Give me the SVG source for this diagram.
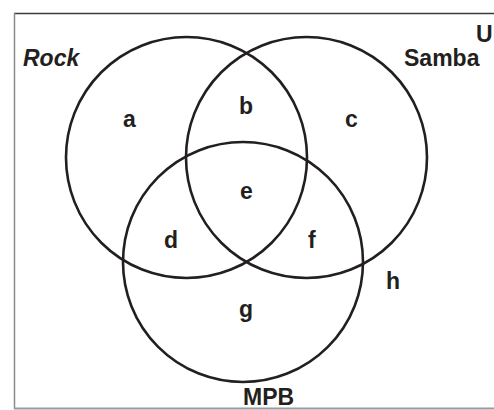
<svg xmlns="http://www.w3.org/2000/svg" width="494" height="410" viewBox="0 0 494 410">
<style>
.c{fill:none;stroke:#231f20;stroke-width:2.6}
.t{font-family:"Liberation Sans",Arial,sans-serif;font-weight:bold;font-size:23px;fill:#231f20}
</style>
<rect width="494" height="410" fill="#fff"/>
<g id="frame">
<line x1="14" y1="13.5" x2="494" y2="13.5" stroke="#3a3a3a" stroke-width="1.5"/>
<line x1="14.5" y1="13" x2="14.5" y2="409" stroke="#8a8a8a" stroke-width="1.5"/>
<line x1="14" y1="408.5" x2="494" y2="408.5" stroke="#9a9a9a" stroke-width="2"/>
<text class="t" x="476" y="42">U</text>
</g>
<g id="rock"><circle class="c" cx="186.5" cy="157.5" r="120.5"/><text class="t" x="23" y="66" font-style="italic" font-size="22">Rock</text></g>
<g id="samba"><circle class="c" cx="306.5" cy="157.5" r="120.5"/><text class="t" x="404" y="66">Samba</text></g>
<g id="mpb"><circle class="c" cx="243" cy="262" r="120"/><text class="t" x="243" y="405">MPB</text></g>
<g id="regions">
<text class="t" x="123" y="127">a</text>
<text class="t" x="239" y="114">b</text>
<text class="t" x="345" y="127">c</text>
<text class="t" x="164" y="248">d</text>
<text class="t" x="240" y="199">e</text>
<text class="t" x="308" y="248">f</text>
<text class="t" x="239" y="317">g</text>
<text class="t" x="386" y="289">h</text>
</g>
</svg>
